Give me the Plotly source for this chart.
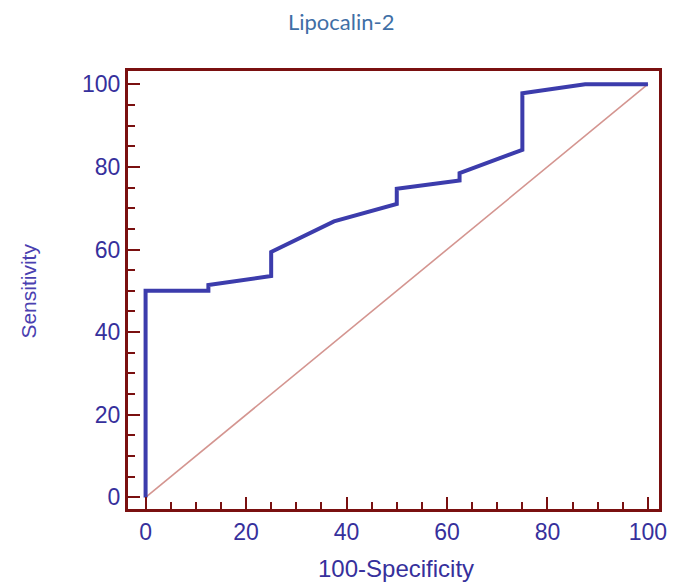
import plotly.graph_objects as go

# ROC curve data (100-Specificity, Sensitivity)
fpr = [0, 0, 12.5, 12.5, 25, 25, 37.5, 50, 50, 62.5, 62.5, 75, 75, 87.5, 100]
tpr = [0, 50, 50, 51.4, 53.6, 59.4, 66.8, 71.0, 74.7, 76.7, 78.5, 84.1, 97.8, 100, 100]
diag_x = [0, 100]
diag_y = [0, 100]
tick_vals = [0, 20, 40, 60, 80, 100]

FRAME = "#7a1010"
TXT = "#36309c"

fig = go.Figure()
fig.add_trace(go.Scatter(x=diag_x, y=diag_y, mode="lines",
                         line=dict(color="#d49590", width=1.6), hoverinfo="skip"))
fig.add_trace(go.Scatter(x=fpr, y=tpr, mode="lines",
                         line=dict(color="#3c3cac", width=4), hoverinfo="skip"))

axis_common = dict(
    showgrid=False, zeroline=False,
    showline=True, linecolor=FRAME, linewidth=3, mirror=True,
    ticks="inside", ticklen=12, tickwidth=2, tickcolor=FRAME,
    tickvals=tick_vals,
    tickfont=dict(family="Liberation Sans, Arial", size=23, color=TXT),
    minor=dict(ticks="inside", ticklen=7, tickwidth=2, tickcolor=FRAME, dtick=5, tick0=0, showgrid=False),
)

fig.update_layout(
    width=677, height=582,
    margin=dict(l=128, r=10, t=71, b=73),
    paper_bgcolor="white", plot_bgcolor="white",
    showlegend=False,
    title=dict(text="Lipocalin-2", x=0.504, xanchor="center", y=0.962, yanchor="middle",
               font=dict(family="Lato, Open Sans", size=22, color="#3f6fa6")),
    xaxis=dict(range=[-3.5, 102.2], ticklabelstandoff=0, **axis_common),
    yaxis=dict(range=[-2.8, 103.2], ticklabelstandoff=0, **axis_common),
    annotations=[
        dict(text="100-Specificity", xref="paper", yref="paper", x=0.505, y=-0.135,
             xanchor="center", yanchor="middle", showarrow=False,
             font=dict(family="Liberation Sans, Arial", size=24, color=TXT)),
        dict(text="Sensitivity", xref="paper", yref="paper", x=-0.187, y=0.498,
             xanchor="center", yanchor="middle", showarrow=False, textangle=-90,
             font=dict(family="Liberation Sans, Arial", size=21, color="#4a40b0")),
    ],
)

fig.write_html("out.html", config={"displayModeBar": False},
               post_script="document.body.style.margin='0';document.body.style.overflow='hidden';")
